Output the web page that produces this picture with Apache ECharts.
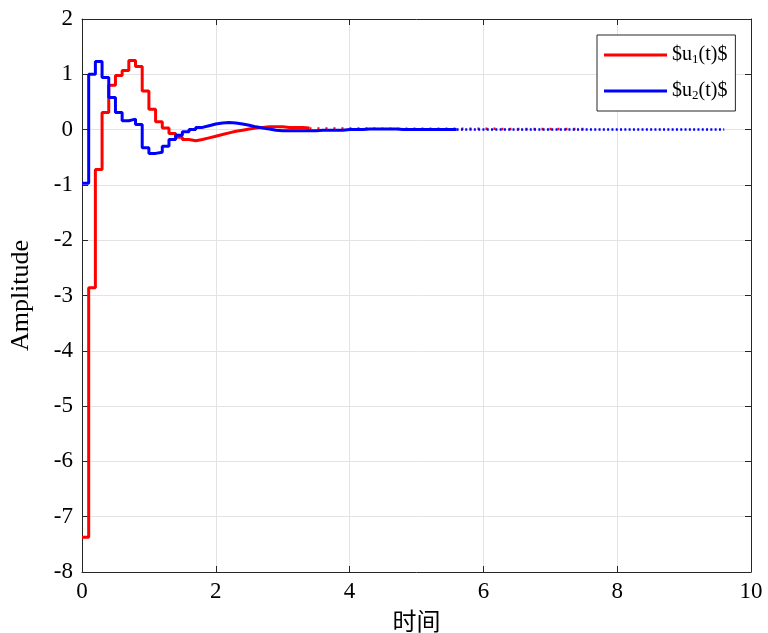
<!DOCTYPE html>
<html>
<head>
<meta charset="utf-8">
<script src="https://cdn.jsdelivr.net/npm/echarts@6/dist/echarts.min.js"></script>
<style>html,body{margin:0;padding:0;background:#fff}#c{width:768px;height:633px}</style>
</head>
<body>
<div id="c"></div>
<script>
var sampleTimes = [0,0.1,0.2,0.3,0.4,0.5,0.6,0.7,0.8,0.9,1.0,1.1,1.2,1.3,1.4,1.5,1.6,1.7,1.8,1.9,2.0,2.1,2.2,2.3,2.4,2.5,2.6,2.7,2.8,2.9,3.0,3.1,3.2,3.3,3.4,3.5,3.6,3.7,3.8,3.9,4.0,4.1,4.2,4.3,4.4,4.5,4.6,4.7,4.8,4.9,5.0,5.1,5.2,5.3,5.4,5.5,5.6];
var u1Values = [-7.37,-2.86,-0.72,0.31,0.80,0.98,1.07,1.25,1.14,0.70,0.37,0.14,0.03,-0.07,-0.14,-0.18,-0.20,-0.18,-0.15,-0.12,-0.09,-0.06,-0.03,-0.01,0.01,0.03,0.04,0.05,0.05,0.05,0.04,0.04,0.04,0.03,0.03];
var u2Values = [-0.97,1.00,1.23,0.94,0.58,0.31,0.16,0.19,0.09,-0.33,-0.43,-0.41,-0.30,-0.18,-0.10,-0.04,0.00,0.04,0.07,0.10,0.12,0.13,0.12,0.10,0.08,0.05,0.03,0.01,-0.01,-0.02,-0.02,-0.02,-0.02,-0.02,-0.02,-0.01,-0.01,-0.01,-0.01,0.00,0.00,0.00,0.01,0.01,0.01,0.01,0.01,0.00,0.00,0.00,0.00,0.00,0.00,0.00,0.00,0.00,0.00];
var u1Tail = [[3.4,0.02],[7.5,0.01]];
var u2Tail = [[5.6,0.0],[9.6,0.0]];
var xTicks = [0,2,4,6,8,10];
var yTicks = [2,1,0,-1,-2,-3,-4,-5,-6,-7,-8];

function pairs(ts, vs){ var out=[]; for(var i=0;i<vs.length;i++){ out.push([ts[i], vs[i]]); } return out; }

var serif = 'Liberation Serif, "Times New Roman", "Noto Sans CJK SC", serif';
var chart = echarts.init(document.getElementById('c'), null, {renderer:'canvas'});
var gridColor = '#e3e3e3';
var axisColor = '#262626';
var baseX = {
  type:'value', min:0, max:10, interval:2,
  axisLine:{show:true, onZero:false, lineStyle:{color:axisColor, width:1}},
  axisTick:{show:true, inside:true, length:6, lineStyle:{color:axisColor}},
  splitLine:{show:true, lineStyle:{color:gridColor, width:1}}
};
var baseY = {
  type:'value', min:-8, max:2, interval:1,
  axisLine:{show:true, onZero:false, lineStyle:{color:axisColor, width:1}},
  axisTick:{show:true, inside:true, length:6, lineStyle:{color:axisColor}},
  splitLine:{show:true, lineStyle:{color:gridColor, width:1}}
};
var option = {
  animation:false,
  backgroundColor:'#fff',
  grid:{left:82, right:17, top:19, bottom:61, containLabel:false, outerBoundsMode:'none'},
  xAxis:[
    Object.assign({}, baseX, {position:'bottom',
      axisLabel:{show:true, color:'#000', fontFamily:serif, fontSize:23, margin:8},
      name:'时间', nameLocation:'middle', nameGap:40,
      nameTextStyle:{color:'#000', fontFamily:serif, fontSize:24}}),
    Object.assign({}, baseX, {position:'top', axisLabel:{show:false}, splitLine:{show:false}})
  ],
  yAxis:[
    Object.assign({}, baseY, {position:'left',
      axisLabel:{show:true, color:'#000', fontFamily:serif, fontSize:23, margin:9},
      name:'Amplitude', nameLocation:'middle', nameGap:48,
      nameTextStyle:{color:'#000', fontFamily:serif, fontSize:26}}),
    Object.assign({}, baseY, {position:'right', axisLabel:{show:false}, splitLine:{show:false}})
  ],
  legend:{
    data:['u1','u2'], orient:'vertical', left:597, top:35,
    backgroundColor:'#fff', borderColor:'#262626', borderWidth:1, borderRadius:0,
    padding:[9,8,9,7], itemGap:14, itemWidth:63, itemHeight:3, icon:'rect',
    formatter:function(n){ return n==='u1' ? '{a|$u}{s|1}{a|(t)$}' : '{a|$u}{s|2}{a|(t)$}'; },
    textStyle:{color:'#000', fontFamily:serif, fontSize:20, lineHeight:22,
      rich:{a:{fontFamily:serif, fontSize:20, lineHeight:22, color:'#000'},
            s:{fontFamily:serif, fontSize:13, lineHeight:22, color:'#000', padding:[9,0,0,0]}}}
  },
  series:[
    {name:'u1', type:'line', step:'end', showSymbol:false, symbol:'none', data:pairs(sampleTimes,u1Values),
      lineStyle:{color:'#ff0000', width:3}, itemStyle:{color:'#ff0000'}, z:2},
    {name:'u1tail', type:'line', showSymbol:false, symbol:'none', data:u1Tail,
      lineStyle:{color:'#ff0000', width:2.5, type:[2,6]}, z:2},
    {name:'u2', type:'line', step:'end', showSymbol:false, symbol:'none', data:pairs(sampleTimes,u2Values),
      lineStyle:{color:'#0000ff', width:3}, itemStyle:{color:'#0000ff'}, z:3},
    {name:'u2tail', type:'line', showSymbol:false, symbol:'none', data:u2Tail,
      lineStyle:{color:'#0000ff', width:2.5, type:[2,2.3]}, z:3}
  ]
};
chart.setOption(option);
</script>
</body>
</html>
